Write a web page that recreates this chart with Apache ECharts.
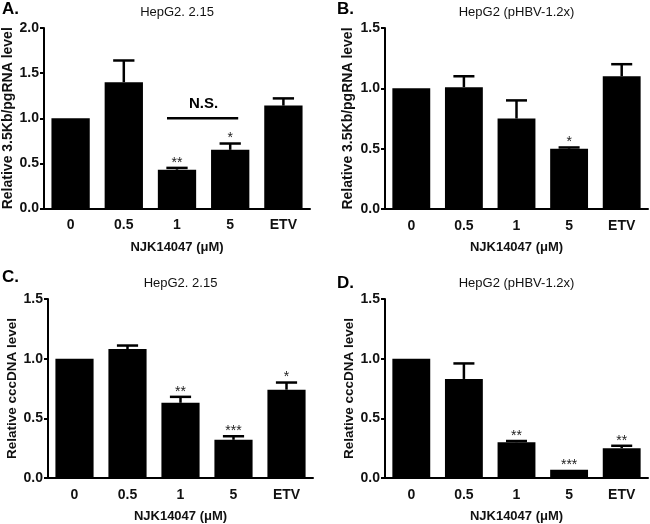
<!DOCTYPE html>
<html>
<head>
<meta charset="utf-8">
<script src="https://cdn.jsdelivr.net/npm/echarts@6/dist/echarts.min.js"></script>
<style>html,body{margin:0;padding:0;background:#fff}#c{width:650px;height:524px}</style>
</head>
<body>
<div id="c"></div>
<script>
// ---- data ----
var categories = ['0', '0.5', '1', '5', 'ETV'];
var aMeans = [1.00, 1.40, 0.43, 0.65, 1.14];
var aErr   = [0.00, 0.24, 0.02, 0.07, 0.08];
var aStars = ['', '', '**', '*', ''];
var bMeans = [1.00, 1.01, 0.75, 0.50, 1.10];
var bErr   = [0.00, 0.09, 0.15, 0.01, 0.10];
var bStars = ['', '', '', '*', ''];
var cMeans = [1.00, 1.08, 0.63, 0.32, 0.74];
var cErr   = [0.00, 0.03, 0.05, 0.03, 0.06];
var cStars = ['', '', '**', '***', '*'];
var dMeans = [1.00, 0.83, 0.30, 0.07, 0.25];
var dErr   = [0.00, 0.13, 0.01, 0.00, 0.02];
var dStars = ['', '', '**', '***', '**'];
var panelTitles = ['HepG2. 2.15', 'HepG2 (pHBV-1.2x)', 'HepG2. 2.15', 'HepG2 (pHBV-1.2x)'];
var panelLetters = ['A.', 'B.', 'C.', 'D.'];
var yNames = ['Relative 3.5Kb/pgRNA level', 'Relative 3.5Kb/pgRNA level', 'Relative cccDNA level', 'Relative cccDNA level'];
var yMax = [2.0, 1.5, 1.5, 1.5];
var xName = 'NJK14047 (\u03bcM)';
var nsBracket = { from: 2, to: 3, level: 1.0, text: 'N.S.' };

var FONT = '"Liberation Sans", Arial, sans-serif';
var grids = [
  { left: 44, top: 28, width: 266, height: 180.5 },
  { left: 385, top: 28, width: 263, height: 181 },
  { left: 48, top: 299, width: 265, height: 181 },
  { left: 385, top: 299, width: 263, height: 181 }
];
var nameGaps = [28, 30, 28, 27];
var nameSizes = [14, 14, 13.5, 13.5];
var allMeans = [aMeans, bMeans, cMeans, dMeans];
var allErr = [aErr, bErr, cErr, dErr];
var allStars = [aStars, bStars, cStars, dStars];

var xAxes = [], yAxes = [], series = [], graphics = [];
grids.forEach(function (g, i) {
  xAxes.push({
    type: 'category', gridIndex: i, data: categories,
    axisLine: { lineStyle: { color: '#000', width: 2 } },
    axisTick: { alignWithLabel: true, length: 5, lineStyle: { color: '#000', width: 2 } },
    axisLabel: { color: '#111', fontFamily: FONT, fontSize: 14, fontWeight: 'bold', margin: 10 },
    name: xName, nameLocation: 'middle', nameGap: 32,
    nameTextStyle: { color: '#111', fontFamily: FONT, fontSize: 13, fontWeight: 'bold' }
  });
  yAxes.push({
    type: 'value', gridIndex: i, min: 0, max: yMax[i], interval: 0.5,
    splitLine: { show: false },
    axisLine: { show: true, lineStyle: { color: '#000', width: 2 } },
    axisTick: { show: true, length: 4, lineStyle: { color: '#000', width: 2 } },
    axisLabel: { color: '#111', fontFamily: FONT, fontSize: 14, fontWeight: 'bold', margin: 5,
      formatter: function (v) { return v.toFixed(1); } },
    name: yNames[i], nameLocation: 'middle', nameGap: nameGaps[i],
    nameTextStyle: { color: '#111', fontFamily: FONT, fontSize: nameSizes[i], fontWeight: 'bold' }
  });
  series.push({
    type: 'bar', xAxisIndex: i, yAxisIndex: i, data: allMeans[i],
    barCategoryGap: '28%', itemStyle: { color: '#000' }, silent: true
  });
  var errData = allMeans[i].map(function (m, k) { return [k, m, allErr[i][k]]; });
  series.push({
    type: 'custom', xAxisIndex: i, yAxisIndex: i, data: errData, silent: true, z: 3,
    renderItem: function (params, api) {
      var x = api.value(0), m = api.value(1), e = api.value(2);
      if (!(e > 0)) return null;
      var p0 = api.coord([x, m]);
      var p1 = api.coord([x, m + e]);
      var w = api.size([1, 0])[0] * 0.2;
      return { type: 'group', children: [
        { type: 'line', shape: { x1: p0[0], y1: p0[1], x2: p1[0], y2: p1[1] }, style: { stroke: '#000', lineWidth: 2.5 } },
        { type: 'line', shape: { x1: p1[0] - w, y1: p1[1], x2: p1[0] + w, y2: p1[1] }, style: { stroke: '#000', lineWidth: 2.5 } }
      ]};
    }
  });
  var starData = allMeans[i].map(function (m, k) { return [k, m + allErr[i][k], allStars[i][k]]; });
  series.push({
    type: 'custom', xAxisIndex: i, yAxisIndex: i, data: starData, silent: true, z: 4,
    renderItem: function (params, api) {
      var x = api.value(0), top = api.value(1);
      var s = starData[params.dataIndex][2];
      if (!s) return null;
      var p = api.coord([x, top]);
      return { type: 'text', style: { x: p[0], y: p[1] + 2, text: s, textAlign: 'center', textVerticalAlign: 'bottom',
        font: '14px ' + FONT, fill: '#222' } };
    }
  });
  graphics.push({ type: 'text', x: g.left + g.width / 2, y: g.top - 16,
    style: { text: panelTitles[i], textAlign: 'center', textVerticalAlign: 'middle', font: '13px ' + FONT, fill: '#111' } });
  var lx = (i % 2 === 0) ? 2 : 337;
  var ly = (i < 2) ? 9 : (i === 2 ? 277 : 283);
  graphics.push({ type: 'text', x: lx, y: ly,
    style: { text: panelLetters[i], textAlign: 'left', textVerticalAlign: 'middle', font: 'bold 17px ' + FONT, fill: '#000' } });
});

// N.S. bracket on panel A
series.push({
  type: 'custom', xAxisIndex: 0, yAxisIndex: 0, data: [[nsBracket.from, nsBracket.to, nsBracket.level]], silent: true, z: 5,
  renderItem: function (params, api) {
    var a = api.coord([api.value(0), api.value(2)]);
    var b = api.coord([api.value(1), api.value(2)]);
    return { type: 'group', children: [
      { type: 'line', shape: { x1: a[0] - 10, y1: a[1], x2: b[0] + 8, y2: b[1] }, style: { stroke: '#000', lineWidth: 2.5 } },
      { type: 'text', style: { x: (a[0] + b[0]) / 2, y: a[1] - 14, text: nsBracket.text, textAlign: 'center', textVerticalAlign: 'middle',
        font: 'bold 15px ' + FONT, fill: '#000' } }
    ]};
  }
});

var chart = echarts.init(document.getElementById('c'), null, { renderer: 'canvas' });
chart.setOption({
  animation: false,
  backgroundColor: '#fff',
  grid: grids,
  xAxis: xAxes,
  yAxis: yAxes,
  series: series,
  graphic: graphics
});
</script>
</body>
</html>
